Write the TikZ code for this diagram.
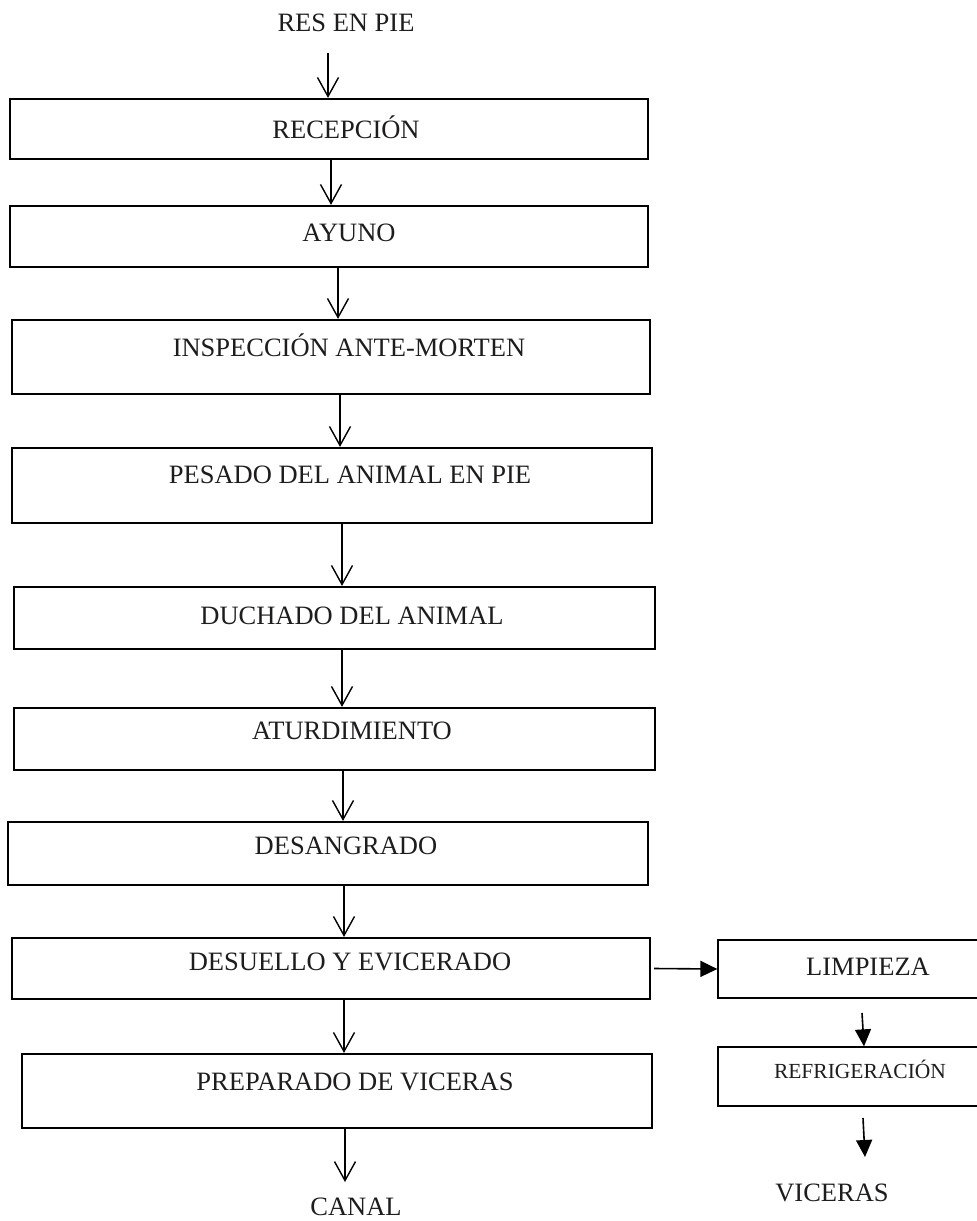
\documentclass[tikz,border=0pt]{standalone}
\usepackage{fontspec}
\setmainfont{Liberation Serif}
\usetikzlibrary{arrows.meta}
\definecolor{ink}{RGB}{30,28,28}
\begin{document}
\begin{tikzpicture}[x=1pt,y=-1pt,
  stepbox/.style={draw=black, line width=2.2pt, inner sep=0pt},
  sidebox/.style={draw=black, line width=1.3pt, inner sep=0pt},
  lbl/.style={anchor=base, inner sep=0pt, text=ink, font=\fontsize{26.5}{31}\selectfont},
  smalllbl/.style={anchor=base, inner sep=0pt, text=ink, font=\fontsize{21.5}{25}\selectfont},
  flow/.style={line width=1.4pt, -{Straight Barb[length=19pt,width=21pt]}},
  sideflow/.style={line width=1.6pt, -{Triangle[length=17pt,width=16pt]}}]

\clip (0,0) rectangle (977,1221);

% main process column
\node[stepbox, minimum width=638pt, minimum height=60pt] (b1) at (329,129) {};
\node[stepbox, minimum width=638pt, minimum height=61pt] (b2) at (329,236.5) {};
\node[stepbox, minimum width=638pt, minimum height=74pt] (b3) at (331,357) {};
\node[stepbox, minimum width=640pt, minimum height=75pt] (b4) at (332,485.5) {};
\node[stepbox, minimum width=641pt, minimum height=62pt] (b5) at (334.5,618) {};
\node[stepbox, minimum width=641pt, minimum height=62pt] (b6) at (334.5,739) {};
\node[stepbox, minimum width=640pt, minimum height=63pt] (b7) at (328,853.5) {};
\node[stepbox, minimum width=638pt, minimum height=61pt] (b8) at (331,968.5) {};
\node[stepbox, minimum width=630pt, minimum height=74pt] (b9) at (337,1091) {};

\node[lbl] (t0) at (346,31) {RES EN PIE};
\node[lbl] (t1) at (346,138) {RECEPCIÓN};
\node[lbl] (t2) at (349,241) {AYUNO};
\node[lbl] (t3) at (349,356) {INSPECCIÓN ANTE-MORTEN};
\node[lbl] (t4) at (350,483) {PESADO DEL ANIMAL EN PIE};
\node[lbl] (t5) at (352,624) {DUCHADO DEL ANIMAL};
\node[lbl] (t6) at (352,739) {ATURDIMIENTO};
\node[lbl] (t7) at (346,854) {DESANGRADO};
\node[lbl] (t8) at (350,970) {DESUELLO Y EVICERADO};
\node[lbl] (t9) at (355,1090) {PREPARADO DE VICERAS};
\node[lbl] (t10) at (356,1215) {CANAL};

% side branch for the offal
\node[sidebox, minimum width=282pt, minimum height=58pt] (lim) at (859,969) {};
\node[sidebox, minimum width=282pt, minimum height=59pt] (ref) at (859,1076.5) {};
\node[lbl] (tl) at (868,975) {LIMPIEZA};
\node[smalllbl] (tr) at (860,1078.5) {REFRIGERACIÓN};
\node[lbl] (tv) at (832,1201) {VICERAS};

% free ends of the connectors
\coordinate (a0) at (328,53);
\coordinate (a10) at (345,1182);
\coordinate (s1) at (862,1013);
\coordinate (s2) at (863,1118);
\coordinate (s3) at (865,1157);

% connectors of the main column
\draw[flow] (a0) -- (b1.north -| a0);
\draw[flow] (b1.south -| 331,0) -- (b2.north -| 331,0);
\draw[flow] (b2.south -| 338,0) -- (b3.north -| 338,0);
\draw[flow] (b3.south -| 340,0) -- (b4.north -| 340,0);
\draw[flow] (b4.south -| 342,0) -- (b5.north -| 342,0);
\draw[flow] (b5.south -| 342,0) -- (b6.north -| 342,0);
\draw[flow] (b6.south -| 343,0) -- (b7.north -| 343,0);
\draw[flow] (b7.south -| 344,0) -- (b8.north -| 344,0);
\draw[flow] (b8.south -| 344,0) -- (b9.north -| 344,0);
\draw[flow] (b9.south -| a10) -- (a10);

% connectors of the side branch
\draw[sideflow] ([xshift=3pt]b8.east) -- (lim.west);
\draw[sideflow] (s1) -- (ref.north -| 864,0);
\draw[sideflow] (s2) -- (s3);
\end{tikzpicture}
\end{document}
